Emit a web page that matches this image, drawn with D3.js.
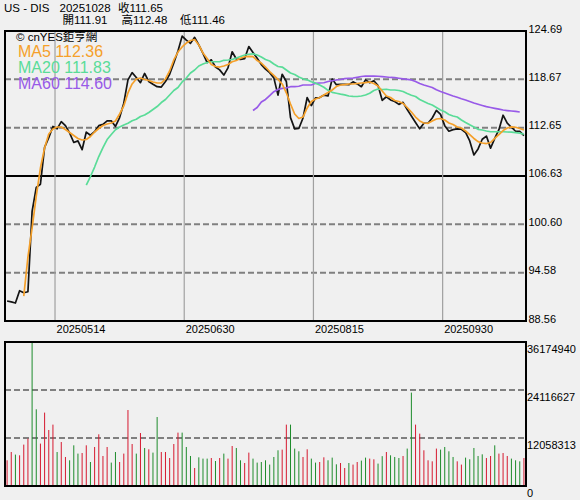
<!DOCTYPE html>
<html><head><meta charset="utf-8">
<script src="https://cdn.jsdelivr.net/npm/d3@7"></script>
<style>
html,body{margin:0;padding:0;background:#f0f0f0;}
svg{display:block;font-family:"Liberation Sans",Arial,"Noto Sans CJK TC",sans-serif;}
</style></head><body>
<svg id="c" width="580" height="500"></svg>
<script>
// ---- data ----
const headerLine1 = ["US - DIS", "20251028", "收111.65"];
const headerLine2 = ["開111.91", "高112.48", "低111.46"];
const legendLabels = ["MA5 112.36", "MA20 111.83", "MA60 114.60"];
const copyrightText = "© cnYES鉅亨網";

const priceTicks = [88.56, 94.58, 100.60, 106.63, 112.65, 118.67, 124.69];
const volTicks = [0, 12058313, 24116627, 36174940];
const dateTickLabels = ["20250514", "20250630", "20250815", "20250930"];
const dateTickIndex = [12, 43, 74, 105];

const closes = [
91.05, 90.95, 90.8, 92.33, 92.08, 92.2, 102.2, 105.2, 105.6, 110.2,
111.4, 112.8, 112.5, 113.4, 112.9, 112.0, 110.8, 111.0, 109.9, 112.1,
111.7, 112.15, 112.9, 113.05, 113.5, 113.5, 112.8, 113.9, 115.7, 118.6,
119.5, 118.9, 118.25, 119.4, 118.4, 118.05, 117.75, 117.7, 118.4, 119.3,
120.7, 122.2, 124.05, 123.55, 123.15, 123.9, 122.95, 121.9, 120.75, 121.1,
120.2, 119.85, 119.2, 120.1, 122.1, 121.2, 121.15, 121.25, 122.75, 122.0,
121.3, 120.5, 119.95, 119.5, 118.85, 116.7, 119.3, 118.4, 113.9, 112.5,
112.55, 113.85, 116.4, 115.4, 116.35, 116.4, 116.7, 116.6, 118.7, 118.0,
118.05, 118.05, 118.0, 118.35, 118.1, 117.75, 118.6, 118.25, 118.5, 117.9,
116.05, 116.5, 116.1, 115.9, 115.55, 115.8, 114.9, 114.1, 113.3, 112.5,
113.2, 113.2, 113.85, 114.8, 114.3, 112.9, 112.2, 112.4, 112.5, 112.45,
112.05, 111.0, 109.25, 110.0, 111.2, 111.6, 110.1, 111.3, 112.4, 114.2,
113.2, 112.7, 112.2, 112.2, 111.65];

const ma5Start = 4;
const ma5 = [
91.67, 96.53, 100.14, 104.13, 107.62, 110.11, 111.86, 112.48, 112.73, 112.73,
112.42, 112.04, 111.67, 111.3, 111.11, 111.17, 111.55, 112.11, 112.54, 112.92,
113.1, 113.23, 113.48, 114.35, 115.35, 116.97, 118.09, 118.71, 118.83, 118.65,
118.52, 118.34, 118.21, 118.21, 118.71, 119.71, 121.08, 122.07, 122.7, 123.19,
123.51, 123.63, 122.95, 121.95, 121.26, 120.52, 120.27, 120.2, 120.33, 120.52,
120.86, 121.01, 121.29, 121.48, 121.54, 121.49, 121.01, 120.7, 120.2, 119.64,
119.15, 118.65, 118.09, 116.99, 115.59, 114.35, 113.79, 113.97, 115.1, 115.91,
116.22, 116.4, 116.72, 117.03, 117.34, 117.77, 117.96, 118.02, 118.09, 118.09,
118.15, 118.21, 118.25, 118.34, 118.15, 117.84, 117.21, 116.59, 116.4, 116.03,
115.91, 115.66, 115.16, 114.6, 113.97, 113.48, 113.23, 113.19, 113.48, 113.73,
113.79, 113.6, 113.23, 113.04, 112.73, 112.6, 112.23, 111.79, 111.3, 110.9,
110.74, 110.67, 110.8, 111.3, 111.79, 112.29, 112.6, 112.75, 112.7, 112.54,
112.36];

const ma20Start = 19;
const ma20 = [
105.5, 106.56, 107.74, 109.05, 110.17, 111.17, 111.79, 112.38, 112.73, 112.98,
113.2, 113.5, 113.69, 114.04, 114.22, 114.54, 114.91, 115.28, 115.78, 116.16,
116.72, 117.28, 117.65, 118.34, 118.83, 119.46, 119.83, 120.33, 120.58, 120.77,
120.86, 120.86, 120.86, 121.04, 121.08, 121.14, 121.33, 121.51, 121.7, 121.79,
121.85, 121.7, 121.45, 121.14, 120.95, 120.58, 120.27, 120.2, 119.83, 119.46,
119.27, 118.96, 118.73, 118.61, 118.36, 118.19, 117.96, 117.68, 117.3, 117.05,
116.93, 116.82, 116.74, 116.59, 116.55, 116.53, 116.59, 116.72, 116.93, 117.28,
117.46, 117.4, 117.43, 117.34, 117.34, 117.28, 117.15, 116.9, 116.68, 116.53,
116.16, 115.91, 115.66, 115.47, 115.16, 114.85, 114.62, 114.29, 114.1, 113.97,
113.6, 113.29, 113.0, 112.73, 112.44, 112.36, 112.23, 112.14, 112.14, 112.14,
112.14, 112.11, 112.08, 112.03, 111.96, 111.83];

const ma60Start = 59;
const ma60 = [
114.78, 115.16, 115.84, 116.16, 116.65, 117.13, 117.4, 117.55, 117.61, 117.75,
117.75, 117.81, 117.96, 117.96, 117.96, 118.17, 118.21, 118.24, 118.4, 118.49,
118.59, 118.65, 118.75, 118.8, 118.83, 118.92, 119.02, 119.08, 119.08, 119.08,
119.05, 119.0, 118.96, 118.9, 118.88, 118.8, 118.73, 118.67, 118.59, 118.4,
118.15, 117.96, 117.81, 117.65, 117.36, 117.15, 116.97, 116.78, 116.59, 116.43,
116.25, 116.09, 115.91, 115.72, 115.56, 115.41, 115.26, 115.16, 115.06, 114.95,
114.85, 114.78, 114.72, 114.67, 114.6];

const volumes = [
6460000, 8540000, 7890000, 7710000, 10400000, 11900000, 36174940, 19270000, 10650000, 18440000,
14070000, 15420000, 8540000, 11050000, 7290000, 6460000, 10220000, 8140000, 8290000, 10220000,
6030000, 9800000, 12990000, 7540000, 9800000, 5880000, 8540000, 6030000, 8140000, 19090000,
10550000, 8140000, 13310000, 9550000, 9220000, 8390000, 17330000, 8540000, 8540000, 7030000,
10550000, 13410000, 13410000, 9800000, 7540000, 4520000, 7200000, 6880000, 6880000, 7030000,
6280000, 7030000, 8140000, 6880000, 10050000, 9550000, 6460000, 5780000, 8390000, 6880000,
5880000, 6030000, 6460000, 5380000, 7290000, 8970000, 9140000, 15420000, 15420000, 9400000,
8720000, 7290000, 9220000, 6880000, 5880000, 6030000, 7210000, 6460000, 7130000, 5450000,
5780000, 4520000, 5780000, 5380000, 6030000, 6380000, 7130000, 6880000, 6710000, 5630000,
7500000, 8540000, 7710000, 7290000, 7030000, 7540000, 9400000, 23460000, 15420000, 13160000,
8970000, 6460000, 6200000, 9400000, 9140000, 9800000, 8720000, 7290000, 6200000, 5380000,
7130000, 6710000, 9550000, 7540000, 7960000, 7030000, 7540000, 10220000, 8140000, 8290000,
7540000, 6880000, 6460000, 6200000, 7030000];

// u = red bar, d = green bar
const volDirection = (
"uuduuudduu" + "uuduuddduu" + "duuuudduuu" + "udududduuu" +
"uudddudddu" + "duduudduud" + "dddddduudd" + "duudduuddd" +
"uuduudduud" + "dudddudduu" + "uuuudddduud" +
"dddduuduuu" + "ddduu").split("");
</script>
<script>
const svg = d3.select('#c');
const W = 580, H = 500;
svg.append('rect').attr('width', W).attr('height', H).attr('fill', '#f0f0f0');

const P = {left: 5, right: 526, top: 31, bottom: 321};
const V = {left: 5, right: 526, top: 342, bottom: 486};

const n = closes.length;
const x = d3.scaleBand().domain(d3.range(n)).range([P.left, P.right]).padding(0);
const cx = i => x(i) + x.bandwidth() / 2;
const y = d3.scaleLinear().domain([priceTicks[0], priceTicks[priceTicks.length - 1]]).range([P.bottom, P.top]);
const yv = d3.scaleLinear().domain([0, volTicks[volTicks.length - 1]]).range([V.bottom, V.top]);

// header
const hdr = svg.append('g').attr('font-size', 11.5).attr('fill', '#000');
const h1x = [4, 59.5, 118], h2x = [62.5, 121.5, 180];
headerLine1.forEach((t, k) => hdr.append('text').attr('x', h1x[k]).attr('y', 12).text(t));
headerLine2.forEach((t, k) => hdr.append('text').attr('x', h2x[k]).attr('y', 24).text(t));

// price grid
const grid = svg.append('g');
priceTicks.slice(1, -1).forEach((t, k) => {
  const mid = (k + 1) === Math.floor(priceTicks.length / 2);
  grid.append('line').attr('x1', P.left).attr('x2', P.right)
    .attr('y1', y(t)).attr('y2', y(t))
    .attr('stroke', mid ? '#000' : '#808080')
    .attr('stroke-width', 2)
    .attr('stroke-dasharray', mid ? null : '6,3');
});
dateTickIndex.forEach(i => {
  grid.append('line').attr('x1', x(i)).attr('x2', x(i))
    .attr('y1', P.top).attr('y2', P.bottom)
    .attr('stroke', '#a0a0a0').attr('stroke-width', 1.2);
});

// volume grid
volTicks.slice(1, -1).forEach(t => {
  grid.append('line').attr('x1', V.left).attr('x2', V.right)
    .attr('y1', yv(t)).attr('y2', yv(t))
    .attr('stroke', '#808080').attr('stroke-width', 2).attr('stroke-dasharray', '6,3');
});

// price axis labels
const ya = svg.append('g').attr('transform', `translate(${P.right},0)`)
  .call(d3.axisRight(y).tickValues(priceTicks).tickSize(0).tickFormat(d => d.toFixed(2)));
ya.select('.domain').remove();
ya.selectAll('text').attr('x', 2.5).attr('dy', 1).attr('fill', '#000')
  .attr('font-size', 11).attr('font-family', '"Liberation Sans",Arial,sans-serif');

// volume axis labels
const va = svg.append('g').attr('transform', `translate(${V.right},0)`)
  .call(d3.axisRight(yv).tickValues(volTicks).tickSize(0).tickFormat(d => String(d)));
va.select('.domain').remove();
va.selectAll('text').attr('x', 1).attr('dy', 10.5).attr('fill', '#000')
  .attr('font-size', 11).attr('font-family', '"Liberation Sans",Arial,sans-serif');

// date labels
const xa = svg.append('g').attr('font-size', 11).attr('fill', '#000');
dateTickIndex.forEach((i, k) => {
  xa.append('text').attr('x', x(i) + 1.5).attr('y', 333).text(dateTickLabels[k]);
});

// volume bars
svg.append('g').selectAll('rect').data(volumes).join('rect')
  .attr('x', (d, i) => cx(i) - 0.5)
  .attr('width', 1)
  .attr('y', d => yv(d))
  .attr('height', d => yv(0) - yv(d))
  .attr('fill', (d, i) => volDirection[i] === 'u' ? '#d61a30' : '#1e8c2c');

// lines
const line = d3.line().x(d => cx(d.i)).y(d => y(d.v));
const toPts = (arr, start) => arr.map((v, k) => ({i: start + k, v}));
svg.append('path').attr('d', line(toPts(closes, 0)))
  .attr('fill', 'none').attr('stroke', '#141414').attr('stroke-width', 1.7).attr('stroke-linejoin', 'round');
const maColors = ['#f5a02a', '#5adc98', '#985ae8'];
[[ma60, ma60Start, maColors[2]], [ma20, ma20Start, maColors[1]], [ma5, ma5Start, maColors[0]]].forEach(([arr, s, c]) => {
  svg.append('path').attr('d', line(toPts(arr, s)))
    .attr('fill', 'none').attr('stroke', c).attr('stroke-width', 1.7).attr('stroke-linejoin', 'round');
});

// legend
svg.append('text').attr('x', 16).attr('y', 41).attr('font-size', 11.5).attr('fill', '#000').text(copyrightText);
legendLabels.forEach((t, k) => {
  svg.append('text').attr('x', 18).attr('y', 56.5 + k * 16).attr('font-size', 16)
    .attr('fill', maColors[k]).text(t);
});

// panel borders
[P, V].forEach(b => {
  svg.append('rect').attr('x', b.left).attr('y', b.top)
    .attr('width', b.right - b.left).attr('height', b.bottom - b.top)
    .attr('fill', 'none').attr('stroke', '#000').attr('stroke-width', 2);
});
</script>
</body></html>
